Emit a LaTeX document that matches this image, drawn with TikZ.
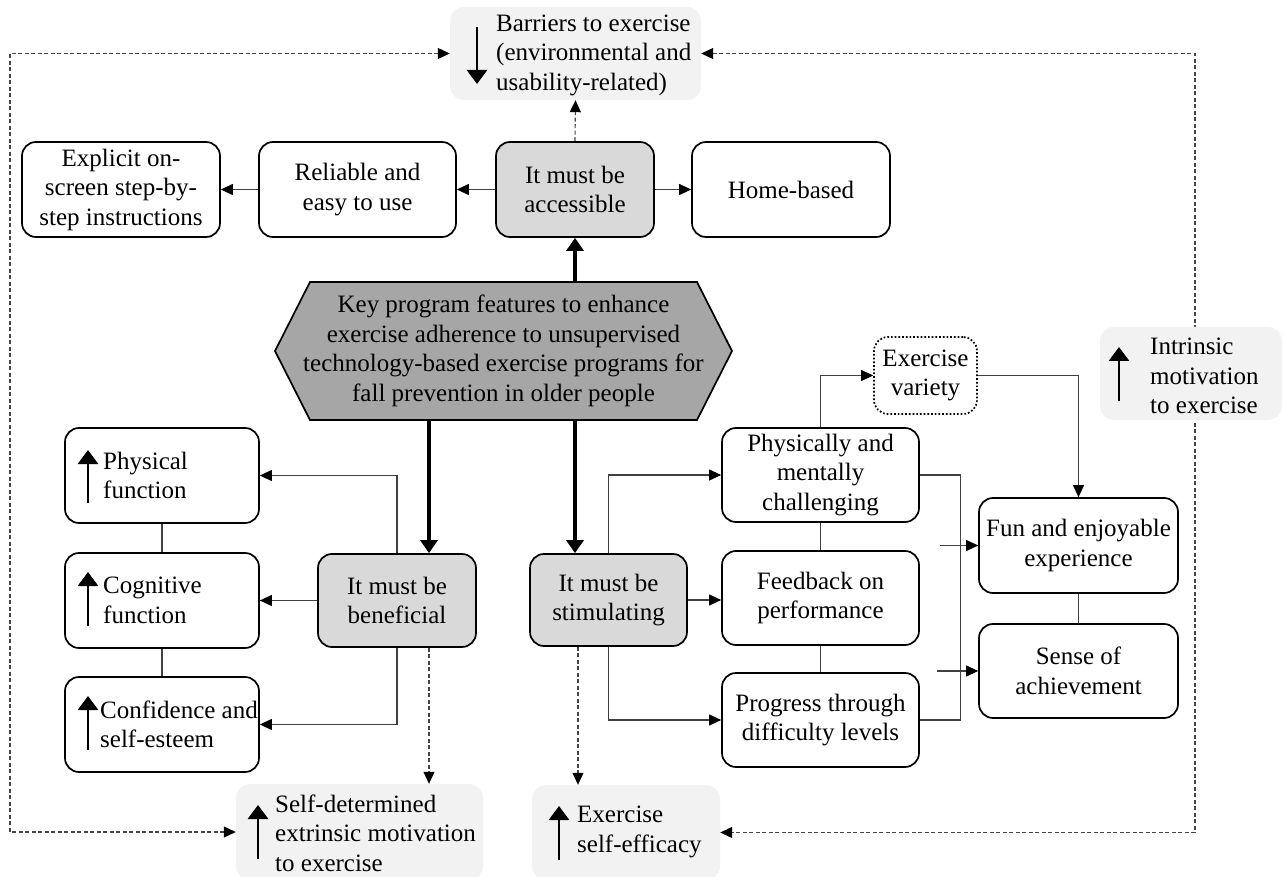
\documentclass[tikz,border=0pt]{standalone}
\usepackage{fontspec}
\setmainfont{Liberation Serif}
\usetikzlibrary{arrows.meta}
\definecolor{hexfill}{HTML}{A6A6A6}
\definecolor{keyfill}{HTML}{D9D9D9}
\definecolor{outfill}{HTML}{F2F2F2}
\definecolor{linegray}{HTML}{444444}
\definecolor{conngray}{HTML}{404040}
\pgfdeclarelayer{bg}
\pgfsetlayers{bg,main}
\tikzset{
  every node/.style={font=\fontsize{25}{29.5}\selectfont},
  box/.style={draw, line width=1.7pt, rounded corners=14pt, fill=white, align=center, inner sep=0pt},
  keybox/.style={box, fill=keyfill},
  outbox/.style={fill=outfill, rounded corners=14pt, inner sep=0pt},
  txt/.style={align=left, inner sep=0pt, anchor=west},
  conn/.style={line width=1.1pt, draw=conngray},
  arr/.style={conn, -{Triangle[length=12pt,width=11pt,color=black]}},
  bigarr/.style={line width=4.5pt, -{Triangle[length=13pt,width=17pt]}},
  fbline/.style={line width=1.1pt, draw=linegray, dash pattern=on 4pt off 2.5pt},
  fb/.style={fbline, -{Triangle[length=12pt,width=11pt,color=black]}},
  fbboth/.style={fbline, {Triangle[length=12pt,width=11pt,color=black]}-{Triangle[length=12pt,width=11pt,color=black]}},
  sym/.style={line width=2.8pt, -{Triangle[length=14pt,width=20pt]}}
}
\begin{document}
\begin{tikzpicture}[x=1pt,y=-1pt]
\useasboundingbox (0,0) rectangle (1283,877);

% top row
\node[outbox, minimum width=251pt, minimum height=93pt] (barriers) at (575.5,53.5) {};
\node[txt] (barrierstxt) at (496,55) {Barriers to exercise\\(environmental and\\usability-related)};
\draw[sym] (477,27) -- (477,84);

\node[box, minimum width=198pt, minimum height=95pt] (explicit) at (121,189.5) {Explicit on-\\screen step-by-\\step instructions};
\node[box, minimum width=197pt, minimum height=95pt] (reliable) at (357.5,189.5) {Reliable and\\easy to use};
\node[keybox, minimum width=158pt, minimum height=95pt] (access) at (575,189.5) {It must be\\accessible};
\node[box, minimum width=198pt, minimum height=95pt] (home) at (791,189.5) {Home-based};

% hexagon
\draw[line width=1.7pt, fill=hexfill] (310,282) -- (697,282) -- (732,351) -- (697,420) -- (310,420) -- (275,351) -- cycle;
\node[align=center, inner sep=0pt, minimum width=387pt, minimum height=138pt] (hex) at (503.5,351) {Key program features to enhance\\exercise adherence to unsupervised\\technology-based exercise programs for\\fall prevention in older people};

% left column
\node[box, minimum width=194pt, minimum height=95pt] (physical) at (162,475.5) {};
\node[txt] (physicaltxt) at (103,475.5) {Physical\\function};
\draw[sym] (88,503) -- (88,450);
\node[box, minimum width=194pt, minimum height=95pt] (cognitive) at (162,600.5) {};
\node[txt] (cognitivetxt) at (103,600.5) {Cognitive\\function};
\draw[sym] (88,626) -- (88,572);
\node[box, minimum width=194pt, minimum height=95pt] (confidence) at (162,724.5) {};
\node[txt] (confidencetxt) at (100,724.5) {Confidence and\\self-esteem};
\draw[sym] (88,750) -- (88,696);

\node[keybox, minimum width=158pt, minimum height=93pt] (ben) at (397,600.5) {It must be\\beneficial};
\node[keybox, minimum width=157pt, minimum height=92pt] (stim) at (608.5,600) {It must be\\stimulating};

% right side
\node[box, minimum width=197pt, minimum height=94pt] (phys) at (820.5,475) {Physically and\\mentally\\challenging};
\node[box, minimum width=197pt, minimum height=94pt] (feed) at (820.5,598) {Feedback on\\performance};
\node[box, minimum width=197pt, minimum height=94pt] (prog) at (820.5,720) {Progress through\\difficulty levels};
\node[box, dotted, minimum width=103pt, minimum height=77pt] (variety) at (925.5,375.5) {Exercise\\variety};
\node[box, minimum width=199pt, minimum height=95pt] (fun) at (1078.5,545.5) {Fun and enjoyable\\experience};
\node[box, minimum width=199pt, minimum height=94pt] (sense) at (1078.5,671) {Sense of\\achievement};

\node[outbox, minimum width=182pt, minimum height=93pt] (intrinsic) at (1191,373.5) {};
\node[txt] (intrinsictxt) at (1150,376) {Intrinsic\\motivation\\to exercise};
\draw[sym] (1119,401) -- (1119,347);

% bottom outcomes
\node[outbox, minimum width=247pt, minimum height=96pt] (selfdet) at (359.5,832) {};
\node[txt] (selfdettxt) at (275,833) {Self-determined\\extrinsic motivation\\to exercise};
\draw[sym] (258,859) -- (258,805);
\node[outbox, minimum width=188pt, minimum height=95pt] (efficacy) at (626,832.5) {};
\node[txt] (efficacytxt) at (577,832) {Exercise\\self-efficacy};
\draw[sym] (559,860) -- (559,806);

% connectors top
\draw[arr] (access.west) -- (reliable.east);
\draw[arr] (reliable.west) -- (explicit.east);
\draw[arr] (access.east) -- (home.west);
\draw[fb] (access.north) -- (barriers.south);
\draw[bigarr] (access.south |- hex.north) -- (access.south);

% hex to key boxes
\coordinate (bA) at ([xshift=32pt]ben.north);
\coordinate (sA) at ([xshift=-33.5pt]stim.north);
\draw[bigarr] (bA |- hex.south) -- (bA);
\draw[bigarr] (sA |- hex.south) -- (sA);

% beneficial
\draw[arr] (ben.north) |- (physical.east);
\draw[arr] (ben.west) -- (cognitive.east);
\draw[arr] (ben.south) |- (confidence.east);
\draw[conn] (physical.south) -- (cognitive.north);
\draw[conn] (cognitive.south) -- (confidence.north);
\coordinate (bB) at ([xshift=32pt]ben.south);
\draw[fb] (bB) -- (bB |- selfdet.north);

% stimulating
\draw[arr] (stim.north) |- (phys.west);
\draw[arr] (stim.east) -- (stim.east -| feed.west);
\draw[arr] (stim.south) |- (prog.west);
\coordinate (sB) at ([xshift=-30.5pt]stim.south);
\draw[fb] (sB) -- (sB |- efficacy.north);
\draw[conn] (phys.south) -- (feed.north);
\draw[conn] (feed.south) -- (prog.north);

\draw[arr] (phys.north) |- (variety.west);
\draw[arr] (variety.east) -| (fun.north);
\draw[conn] (phys.east) -- ++(41,0) |- (prog.east);
\coordinate (f1) at (940,545.5);
\coordinate (s1) at (937,671);
\draw[arr] (f1) -- (fun.west);
\draw[arr] (s1) -- (sense.west);
\draw[conn] (fun.south) -- (sense.north);

% feedback frame
\coordinate (ltop) at (10,53.5);
\coordinate (lbot) at (10,832);
\coordinate (rtop) at (1195,53.5);
\coordinate (rbot) at (1195,832.5);
\begin{pgfonlayer}{bg}
\draw[fbboth] (barriers.west) -- (ltop) -- (lbot) -- (selfdet.west);
\draw[fbboth] (barriers.east) -- (rtop) -- (rbot) -- (efficacy.east);
\end{pgfonlayer}
\end{tikzpicture}
\end{document}
